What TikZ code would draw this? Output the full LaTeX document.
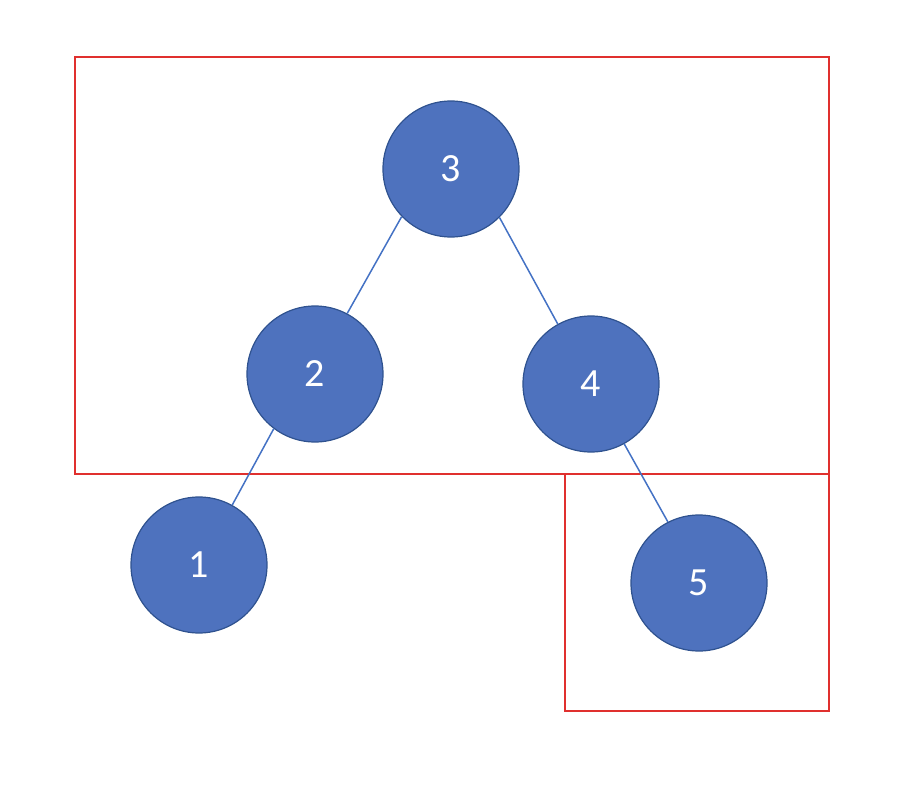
\documentclass[tikz,border=0pt]{standalone}
\usepackage{fontspec}
\setmainfont{Carlito}
\definecolor{nodefill}{HTML}{4E72BE}
\definecolor{nodeline}{HTML}{2F528F}
\definecolor{edgecol}{HTML}{4472C4}
\definecolor{boxred}{HTML}{E0302E}
\tikzset{
  treenode/.style={circle, minimum size=136pt, inner sep=0pt, fill=nodefill, draw=nodeline, line width=1.2pt, text=white, font=\fontsize{40}{40}\selectfont},
  treeedge/.style={draw=edgecol, line width=1.5pt},
  redbox/.style={draw=boxred, line width=1.5pt}
}
\begin{document}
\begin{tikzpicture}[x=1pt,y=-1pt]
\useasboundingbox (0,0) rectangle (900,800);
\draw[redbox] (75,57) rectangle (829,474);
\draw[redbox] (565,474) rectangle (829,711);
\node[treenode] (n3) at (451,169) {3};
\node[treenode] (n2) at (315,374) {2};
\node[treenode] (n4) at (591,384) {4};
\node[treenode] (n1) at (199,565) {1};
\node[treenode] (n5) at (699,583) {5};
\draw[treeedge] (n3.224) -- (n2.62);
\draw[treeedge] (n3.315) -- (n4.119);
\draw[treeedge] (n2.233) -- (n1.61);
\draw[treeedge] (n4.299) -- (n5.117);
\end{tikzpicture}
\end{document}
